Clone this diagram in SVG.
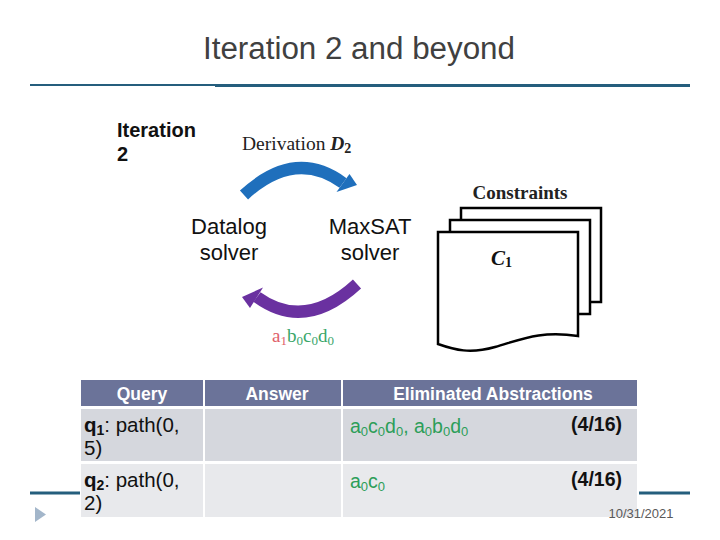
<svg xmlns="http://www.w3.org/2000/svg" width="720" height="540" viewBox="0 0 720 540">
<style>
.sans{font-family:"Liberation Sans",Arial,sans-serif}
.serif{font-family:"Liberation Serif","Times New Roman",serif}
.rule{stroke:#255e7d}
.hdr{fill:#6b7399}
.hdrt{fill:#ffffff;font-weight:bold;font-size:17.5px;text-anchor:middle}
.cell{font-size:19.5px;fill:#111}
.q{font-size:20.5px}
.grn{fill:#2c9e58}
.page{fill:#fff;stroke:#000;stroke-width:2.5}
.solver{font-size:22px;fill:#111;text-anchor:middle}
</style>
<rect width="720" height="540" fill="#fff"/>
<g id="title">
<text class="sans" x="203" y="59" font-size="31" fill="#404040" textLength="312" lengthAdjust="spacingAndGlyphs">Iteration 2 and beyond</text>
<line class="rule" x1="30" y1="85" x2="216" y2="85" stroke-width="2"/>
<line class="rule" x1="215" y1="85.5" x2="690" y2="85.5" stroke-width="3"/>
</g>
<g id="iteration-label">
<text class="sans" x="117" y="137" font-size="20" font-weight="bold" fill="#111">Iteration</text>
<text class="sans" x="117" y="161" font-size="20" font-weight="bold" fill="#111">2</text>
</g>
<g id="derivation-label">
<text class="serif" x="242" y="150" font-size="19.5" fill="#222">Derivation <tspan font-weight="bold" font-style="italic">D</tspan><tspan font-weight="bold" font-size="14" dy="3">2</tspan></text>
</g>
<g id="datalog">
<text class="sans solver" x="229" y="234">Datalog</text>
<text class="sans solver" x="229" y="260">solver</text>
</g>
<g id="maxsat">
<text class="sans solver" x="370" y="234">MaxSAT</text>
<text class="sans solver" x="370" y="260">solver</text>
</g>
<g id="abstraction-label">
<text class="serif" x="272" y="342" font-size="19"><tspan fill="#e0606a">a</tspan><tspan fill="#e0606a" font-size="13" dy="3">1</tspan><tspan fill="#3aa66a" dy="-3">b</tspan><tspan fill="#3aa66a" font-size="13" dy="3">0</tspan><tspan fill="#3aa66a" dy="-3">c</tspan><tspan fill="#3aa66a" font-size="13" dy="3">0</tspan><tspan fill="#3aa66a" dy="-3">d</tspan><tspan fill="#3aa66a" font-size="13" dy="3">0</tspan></text>
</g>
<g id="constraints">
<text class="serif" x="520" y="199" font-size="19" font-weight="bold" fill="#222" text-anchor="middle">Constraints</text>
<rect class="page" x="461" y="208" width="140" height="94"/>
<rect class="page" x="450" y="220" width="140" height="94"/>
<path class="page" d="M438,232 H578 V336 C540,330 520,340 495,347 C470,354 455,350 438,344 Z"/>
<text class="serif" x="491" y="265" font-size="21" font-weight="bold" font-style="italic" fill="#111">C<tspan font-size="14" font-style="normal" dy="2">1</tspan></text>
</g>
<g id="connectors">
<path d="M244,195 Q295,148 343,183" fill="none" stroke="#1f6fbc" stroke-width="12"/>
<polygon points="336.5,191.9 357,185 349.5,174.1" fill="#1f6fbc"/>
<path d="M357,284 Q305,332 257,297" fill="none" stroke="#6a31a0" stroke-width="12"/>
<polygon points="263,287.5 242,297 250,308" fill="#6a31a0"/>
</g>
<g id="table">
<rect class="hdr" x="81" y="380" width="122" height="26"/>
<rect class="hdr" x="205" y="380" width="136" height="26"/>
<rect class="hdr" x="343" y="380" width="294" height="26"/>
<rect x="81" y="409" width="122" height="52" fill="#d5d7dd"/>
<rect x="205" y="409" width="136" height="52" fill="#d5d7dd"/>
<rect x="343" y="409" width="294" height="52" fill="#d5d7dd"/>
<rect x="81" y="464" width="122" height="53" fill="#e8e9ec"/>
<rect x="205" y="464" width="136" height="53" fill="#e8e9ec"/>
<rect x="343" y="464" width="294" height="53" fill="#e8e9ec"/>
<text class="sans hdrt" x="142" y="400">Query</text>
<text class="sans hdrt" x="277" y="400">Answer</text>
<text class="sans hdrt" x="493" y="400">Eliminated Abstractions</text>
<text class="sans cell q" x="84" y="432"><tspan font-weight="bold">q</tspan><tspan font-weight="bold" font-size="14" dy="3">1</tspan><tspan dy="-3">: path(0,</tspan></text>
<text class="sans cell q" x="84" y="455">5)</text>
<text class="sans cell q" x="84" y="487"><tspan font-weight="bold">q</tspan><tspan font-weight="bold" font-size="14" dy="3">2</tspan><tspan dy="-3">: path(0,</tspan></text>
<text class="sans cell q" x="84" y="510">2)</text>
<text class="sans cell grn" x="350" y="433">a<tspan font-size="13" dy="3">0</tspan><tspan dy="-3">c</tspan><tspan font-size="13" dy="3">0</tspan><tspan dy="-3">d</tspan><tspan font-size="13" dy="3">0</tspan><tspan dy="-3">, a</tspan><tspan font-size="13" dy="3">0</tspan><tspan dy="-3">b</tspan><tspan font-size="13" dy="3">0</tspan><tspan dy="-3">d</tspan><tspan font-size="13" dy="3">0</tspan></text>
<text class="sans cell" x="622" y="431" font-weight="bold" text-anchor="end">(4/16)</text>
<text class="sans cell grn" x="350" y="488">a<tspan font-size="13" dy="3">0</tspan><tspan dy="-3">c</tspan><tspan font-size="13" dy="3">0</tspan></text>
<text class="sans cell" x="622" y="486" font-weight="bold" text-anchor="end">(4/16)</text>
</g>
<g id="footer">
<line class="rule" x1="30" y1="493" x2="80" y2="493" stroke-width="3"/>
<line class="rule" x1="639" y1="493" x2="690" y2="493" stroke-width="3"/>
<polygon points="35,507 46,514.5 35,522" fill="#a3b6ca"/>
<text class="sans" x="641" y="518" font-size="13" fill="#595959" text-anchor="middle">10/31/2021</text>
</g>
</svg>
